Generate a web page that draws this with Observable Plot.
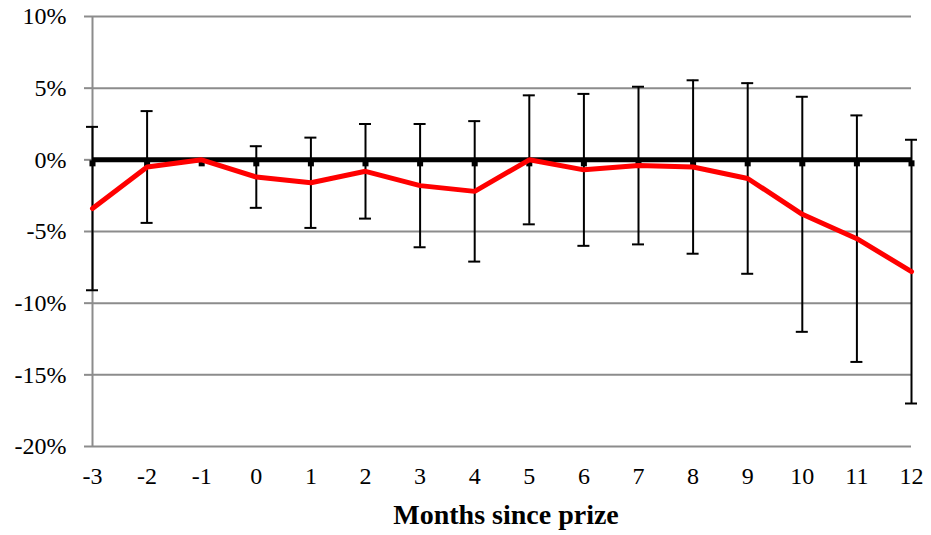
<!DOCTYPE html>
<html>
<head>
<meta charset="utf-8">
<script src="https://cdn.jsdelivr.net/npm/d3@7"></script>
<script src="https://cdn.jsdelivr.net/npm/@observablehq/plot@0.6"></script>
<style>
  html, body { margin: 0; padding: 0; background: #fff; }
  #chart svg { display: block; background: #fff; }
  #chart svg text { font-family: "Liberation Serif", "Times New Roman", serif !important; }
</style>
</head>
<body>
<div id="chart"></div>
<script>
// Months relative to the prize month
const months = [-3, -2, -1, 0, 1, 2, 3, 4, 5, 6, 7, 8, 9, 10, 11, 12];
// Estimated change (%) relative to month -1
const change = [-3.4, -0.5, 0, -1.2, -1.6, -0.8, -1.8, -2.2, 0, -0.7, -0.4, -0.5, -1.3, -3.8, -5.5, -7.8];
// Half-width of the confidence interval (%); month -1 is the reference
const margin = [5.7, 3.9, null, 2.15, 3.15, 3.3, 4.3, 4.9, 4.5, 5.3, 5.5, 6.05, 6.65, 8.2, 8.6, 9.2];
// Baseline series
const baseline = months.map(() => 0);

const yTicks = [-20, -15, -10, -5, 0, 5, 10];
const xTicks = months;
const xLabel = "Months since prize";

const rows = months.map((m, i) => ({month: m, change: change[i], margin: margin[i], base: baseline[i]}));
const bars = rows.filter(d => d.margin != null).map(d => ({
  month: d.month, lo: d.change - d.margin, hi: d.change + d.margin
}));
const capHalf = 0.11; // half the cap width, in months

const grid = "#8c8c8c";
const serif = "Liberation Serif";

const chart = Plot.plot({
  width: 931,
  height: 535,
  marginTop: 16,
  marginBottom: 89,
  marginLeft: 92,
  marginRight: 20,
  x: {domain: [-3, 12]},
  y: {domain: [-20, 10]},
  marks: [
    Plot.ruleY(yTicks, {stroke: grid, strokeWidth: 2}),
    Plot.axisY({ticks: yTicks, tickSize: 8, tickPadding: 18, stroke: grid, strokeWidth: 2, fill: "#000",
      fontFamily: serif, fontSize: 24, tickFormat: d => d + "%", label: null}),
    Plot.ruleX([-3], {stroke: grid, strokeWidth: 2}),
    Plot.axisX({ticks: xTicks, tickSize: 0, tickPadding: 20, fontFamily: serif, fontSize: 24, fill: "#000",
      tickFormat: d => String(d), label: null}),
    Plot.text([xLabel], {frameAnchor: "bottom", lineAnchor: "middle", dx: 4, dy: 69,
      fontFamily: serif, fontWeight: "bold", fontSize: 28, fill: "#000"}),
    // baseline series with square markers
    Plot.line(rows, {x: "month", y: "base", stroke: "#000", strokeWidth: 5, strokeLinecap: "butt"}),
    Plot.dot(rows, {x: "month", y: "base", symbol: "square", r: 3.4, fill: "#000", dy: 3.5}),
    // confidence intervals
    Plot.ruleX(bars, {x: "month", y1: "lo", y2: "hi", stroke: "#000", strokeWidth: 2}),
    Plot.ruleY(bars, {y: "hi", x1: d => d.month - capHalf, x2: d => d.month + capHalf, stroke: "#000", strokeWidth: 2}),
    Plot.ruleY(bars, {y: "lo", x1: d => d.month - capHalf, x2: d => d.month + capHalf, stroke: "#000", strokeWidth: 2}),
    // estimated change
    Plot.line(rows, {x: "month", y: "change", stroke: "#ff0000", strokeWidth: 5, strokeLinejoin: "miter"})
  ]
});

document.getElementById("chart").appendChild(chart);
</script>
</body>
</html>
